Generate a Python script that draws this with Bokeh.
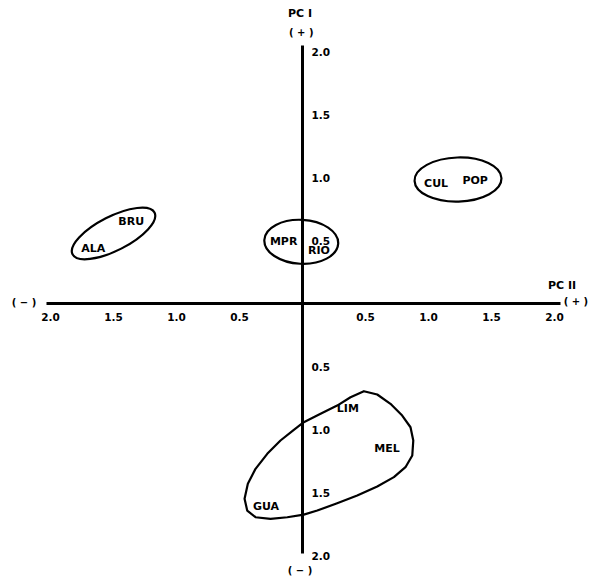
from bokeh.plotting import figure
from bokeh.models import Range1d, FixedTicker, CustomJSTickFormatter
from bokeh.core.properties import value
from bokeh.embed import file_html
from bokeh.resources import INLINE

# --- data (PC II on x, PC I on y) ---
site = ["ALA", "BRU", "MPR", "RIO", "CUL", "POP", "LIM", "MEL", "GUA"]
pc2 = [-1.66, -1.36, -0.15, 0.13, 1.06, 1.37, 0.36, 0.67, -0.29]
pc1 = [0.44, 0.65, 0.49, 0.42, 0.95, 0.98, -0.83, -1.15, -1.61]

tick_values = [-2.0, -1.5, -1.0, -0.5, 0.5, 1.0, 1.5, 2.0]

# groups drawn as ellipses: ALA-BRU, MPR-RIO, CUL-POP
group_cx = [-1.50, -0.01, 1.234]
group_cy = [0.556, 0.49, 0.984]
group_w = [0.73, 0.587, 0.69]
group_h = [0.27, 0.349, 0.35]
group_angle = [0.471, -0.05, 0.03]

# outline of the LIM-MEL-GUA group
lower_x = [0.487, 0.593, 0.698, 0.791, 0.857, 0.879, 0.871, 0.817, 0.725, 0.593,
           0.434, 0.275, 0.117, 0.010, -0.121, -0.254, -0.373, -0.439, -0.460, -0.434,
           -0.373, -0.280, -0.175, -0.069, 0.010, 0.143, 0.275, 0.381]
lower_y = [-0.696, -0.722, -0.796, -0.889, -0.982, -1.087, -1.206, -1.299, -1.378, -1.452,
           -1.524, -1.585, -1.643, -1.675, -1.696, -1.709, -1.696, -1.643, -1.550, -1.431,
           -1.312, -1.193, -1.087, -1.002, -0.942, -0.875, -0.810, -0.744]

FONT = "DejaVu Sans"

p = figure(width=597, height=583, output_backend="svg", toolbar_location=None,
           x_range=Range1d(-2.397, 2.341), y_range=Range1d(-2.222, 2.405),
           y_axis_location="right", min_border=0)
p.grid.visible = False
p.outline_line_color = None
p.background_fill_color = "white"

fmt = CustomJSTickFormatter(code="return tick == 0 ? '' : Math.abs(tick).toFixed(1);")
for ax, b in ((p.xaxis[0], (-2.03, 2.05)), (p.yaxis[0], (-1.98, 2.05))):
    ax.fixed_location = 0
    ax.bounds = b
    ax.ticker = FixedTicker(ticks=tick_values)
    ax.formatter = fmt
    ax.axis_line_width = 3
    ax.axis_line_color = "black"
    ax.major_tick_line_color = None
    ax.minor_tick_line_color = None
    ax.major_label_text_font = FONT
    ax.major_label_text_font_size = "10.5px"
    ax.major_label_text_font_style = "bold"
    ax.major_label_text_color = "black"
    ax.major_label_standoff = 3

# group outlines
p.ellipse(x=group_cx, y=group_cy, width=group_w, height=group_h, angle=group_angle,
          fill_color=None, line_color="black", line_width=2.2)
p.patch(x=lower_x, y=lower_y, fill_color=None, line_color="black", line_width=2.2,
        line_join="round")

# site labels
p.text(x=pc2, y=pc1, text=site, text_align="center", text_baseline="middle",
       text_font=value(FONT), text_font_style="bold", text_font_size="11px",
       text_color="black")

# axis titles and signs
p.text(x=[-0.02, 2.06], y=[2.30, 0.14], text=["PC I", "PC II"], text_align="center",
       text_baseline="middle", text_font=value(FONT), text_font_style="bold",
       text_font_size="11px", text_color="black")
p.text(x=[-0.01, 2.17, -0.02, -2.21], y=[2.15, 0.02, -2.12, 0.01],
       text=["( + )", "( + )", "( − )", "( − )"], text_align="center",
       text_baseline="middle", text_font=value(FONT), text_font_style="bold",
       text_font_size="10px", text_color="black")

open("out.html", "w").write(file_html(p, INLINE))
